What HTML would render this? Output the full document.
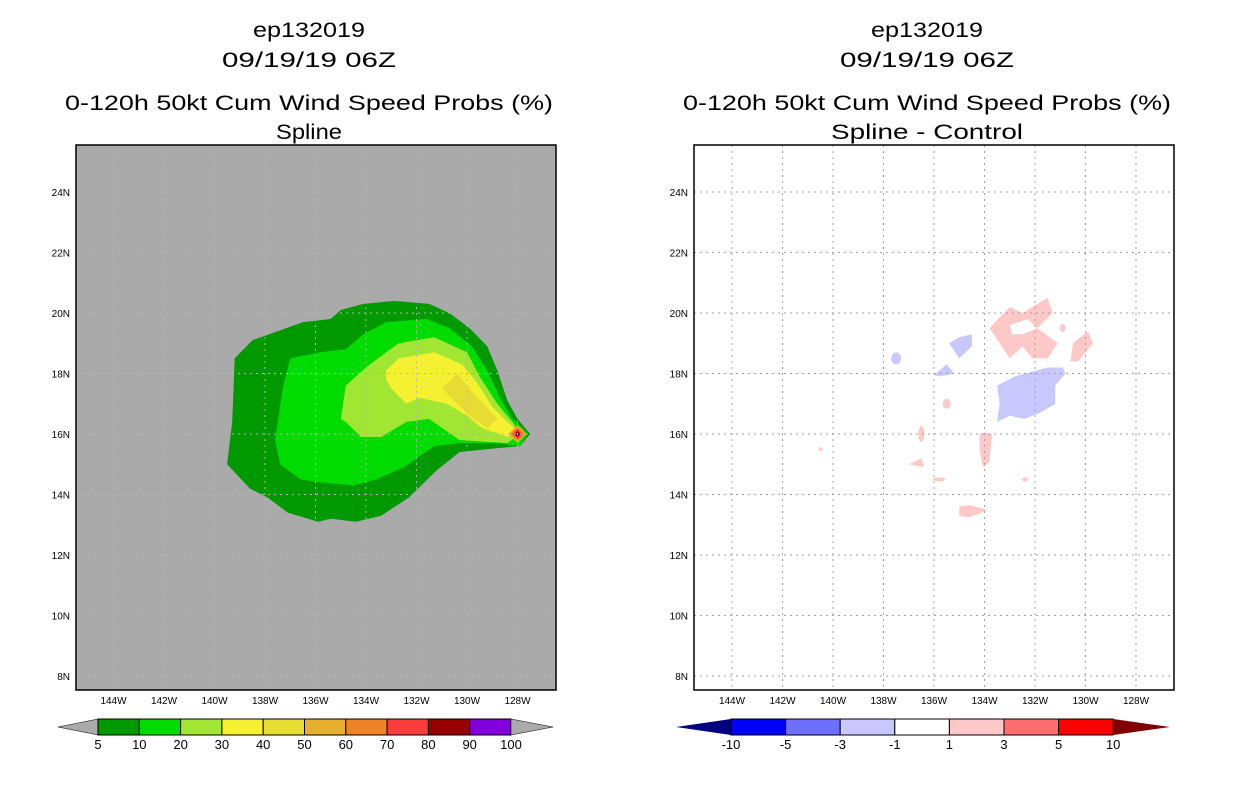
<!DOCTYPE html>
<html><head><meta charset="utf-8"><style>
html,body{margin:0;padding:0;background:#fff;}
svg{display:block;font-family:"Liberation Sans",sans-serif;}
</style></head><body>
<svg id="c" width="1236" height="800" viewBox="0 0 1236 800" xmlns="http://www.w3.org/2000/svg">
<g font-size="21" text-anchor="middle" fill="#000">
<text x="309" y="37" textLength="112" lengthAdjust="spacingAndGlyphs">ep132019</text>
<text x="309" y="67" textLength="174" lengthAdjust="spacingAndGlyphs">09/19/19 06Z</text>
<text x="309" y="110" textLength="488" lengthAdjust="spacingAndGlyphs">0-120h 50kt Cum Wind Speed Probs (%)</text>
<text x="309" y="139" textLength="66" lengthAdjust="spacingAndGlyphs">Spline</text>
</g>
<g font-size="21" text-anchor="middle" fill="#000">
<text x="927" y="37" textLength="112" lengthAdjust="spacingAndGlyphs">ep132019</text>
<text x="927" y="67" textLength="174" lengthAdjust="spacingAndGlyphs">09/19/19 06Z</text>
<text x="927" y="110" textLength="488" lengthAdjust="spacingAndGlyphs">0-120h 50kt Cum Wind Speed Probs (%)</text>
<text x="927" y="139" textLength="192" lengthAdjust="spacingAndGlyphs">Spline - Control</text>
</g>
<rect x="76" y="145" width="480" height="545" fill="#aaaaaa"/>
<rect x="694" y="145" width="480" height="545" fill="#ffffff"/>
<g id="lshapes"></g>
<g id="rshapes"></g>
<g id="grid"></g>
<rect x="76" y="145" width="480" height="545" fill="none" stroke="#000" stroke-width="1.5"/>
<rect x="694" y="145" width="480" height="545" fill="none" stroke="#000" stroke-width="1.5"/>
<g id="ticks" font-size="10" fill="#000"></g>
<g id="cbars"></g>
</svg>
<script>
const lonTicks=[144,142,140,138,136,134,132,130,128];
const latTicks=[24,22,20,18,16,14,12,10,8];
const probLevels=["5","10","20","30","40","50","60","70","80","90","100"];
const probColors=["#009a00","#00dc00","#a0e632","#f5f032","#e6dc32","#e6af2d","#f08228","#fa3c3c","#960000","#8200dc"];
const diffLevels=["-10","-5","-3","-1","1","3","5","10"];
const diffColors=["#0000ff","#6e6eff","#c8c8ff","#ffffff","#ffc8c8","#ff6e6e","#ff0000"];
const prob5=[[138.5,19.1],[136.5,19.7],[135.4,19.8],[135.0,20.1],[134.1,20.3],[132.9,20.4],[131.5,20.3],[130.7,20.0],[129.9,19.5],[129.2,18.9],[128.8,18.1],[128.4,17.1],[128.0,16.5],[127.5,16.0],[127.9,15.6],[129.2,15.5],[130.3,15.4],[131.2,14.8],[132.3,13.9],[133.4,13.3],[134.4,13.1],[135.4,13.2],[135.9,13.1],[137.1,13.4],[137.9,13.9],[138.6,14.2],[139.5,15.0],[139.3,16.4],[139.2,18.5]];
const prob10=[[137.0,18.5],[135.8,18.7],[134.8,18.8],[134.1,19.3],[133.2,19.7],[131.6,19.8],[130.7,19.5],[129.8,18.9],[129.2,18.1],[128.7,17.2],[128.2,16.5],[127.8,16.2],[127.6,16.0],[127.9,15.6],[128.8,15.7],[130.3,15.7],[131.3,15.6],[132.5,14.9],[133.6,14.5],[134.5,14.3],[135.8,14.4],[136.6,14.5],[137.4,15.0],[137.6,15.8],[137.3,17.5]];
const prob20=[[134.0,18.2],[133.2,18.7],[132.7,19.0],[131.3,19.2],[130.0,18.7],[129.5,17.9],[128.8,17.0],[128.2,16.4],[127.9,16.0],[128.4,15.7],[130.3,15.8],[131.5,16.5],[132.4,16.4],[133.4,15.9],[134.2,15.9],[134.8,16.4],[135.0,16.5],[134.8,17.6]];
const prob30=[[133.2,18.1],[132.7,18.5],[131.3,18.7],[130.2,18.3],[129.6,17.7],[129.0,16.9],[128.4,16.4],[128.0,16.1],[128.4,15.9],[129.4,16.2],[130.0,16.6],[130.8,17.0],[131.9,17.2],[132.4,17.0],[133.0,17.5],[133.2,17.8]];
const prob40=[[131.0,17.5],[130.4,18.0],[129.8,17.4],[128.8,16.5],[129.2,16.2],[129.9,16.6]];
const peakCenter=[128.0,16.0];
const posBig=[[133.8,19.5],[133.0,20.2],[132.5,20.0],[131.5,20.5],[131.3,20.0],[131.9,19.5],[131.1,19.0],[131.5,18.5],[132.1,18.5],[132.5,18.9],[133.0,18.5]];
const posHole=[[133.0,19.6],[132.3,19.8],[131.9,19.5],[132.5,19.3],[132.9,19.3]];
const posEast=[[130.6,18.4],[130.5,19.0],[129.9,19.4],[129.7,19.0],[130.3,18.4]];
const posStrip=[[134.2,16.0],[134.0,16.05],[133.7,16.0],[133.8,15.1],[134.0,14.9],[134.1,15.0],[134.2,15.5]];
const posTri=[[137.0,15.0],[136.5,15.2],[136.4,14.9]];
const posSouth=[[135.0,13.6],[134.6,13.65],[133.9,13.5],[134.1,13.4],[134.6,13.25],[135.0,13.3]];
const negBig=[[133.5,17.6],[132.8,17.9],[131.5,18.2],[130.9,18.2],[130.8,18.0],[131.2,17.6],[131.2,17.0],[131.8,16.7],[132.4,16.5],[133.0,16.6],[133.5,16.4],[133.4,17.0]];
const negN=[[135.4,19.0],[135.0,19.2],[134.5,19.3],[134.5,18.9],[135.0,18.5]];
const negMid=[[136.0,17.95],[135.5,18.3],[135.2,18.0],[135.8,17.9]];
const negDots=[[137.5,18.5]];
const posDots=[[130.9,19.5],[135.5,17.0],[136.5,16.0],[140.5,15.5],[135.8,14.5],[132.4,14.5]];

const NS="http://www.w3.org/2000/svg";
function xL(lon){return 265+(138-lon)*25.25;}
function xR(lon){return xL(lon)+618.5;}
function yP(lat){return 434-(lat-16)*30.25;}
function mk(tag,attrs,parent){const e=document.createElementNS(NS,tag);for(const k in attrs)e.setAttribute(k,attrs[k]);parent.appendChild(e);return e;}
function pts(arr,fx){return arr.map(p=>fx(p[0]).toFixed(1)+","+yP(p[1]).toFixed(1)).join(" ");}

const L=document.getElementById('lshapes');
[[prob5,0,'contour-5'],[prob10,1,'contour-10'],[prob20,2,'contour-20'],[prob30,3,'contour-30'],[prob40,4,'contour-40']].forEach(d=>{
  const p=mk('polygon',{points:pts(d[0],xL),fill:probColors[d[1]]},L);
  
  
});
const px=xL(peakCenter[0]),py=yP(peakCenter[1]);
[[9,probColors[5]],[7,probColors[6]],[5,probColors[7]],[3,probColors[8]],[1.5,probColors[9]]].forEach(r=>{
  const d=mk('polygon',{points:`${px-r[0]},${py} ${px},${py-r[0]} ${px+r[0]},${py} ${px},${py+r[0]}`,fill:r[1]},L);
  
  
});

const R=document.getElementById('rshapes');
const pink=diffColors[4],lav=diffColors[2];
[[posBig,pink,'pos-diff-north'],[posHole,'#ffffff','pos-diff-hole'],[posEast,pink,'pos-diff-east'],[posStrip,pink,'pos-diff-strip'],[posTri,pink,'pos-diff-triangle'],[posSouth,pink,'pos-diff-south'],[negBig,lav,'neg-diff-main'],[negN,lav,'neg-diff-north'],[negMid,lav,'neg-diff-mid']].forEach(d=>{
  const p=mk('polygon',{points:pts(d[0],xR),fill:d[1]},R);
  
  
});
negDots.forEach(d=>{const e=mk('ellipse',{cx:xR(d[0]),cy:yP(d[1]),rx:5,ry:6,fill:lav},R);
  
  });
const dotSizes=[[3,4],[4,5],[3,8],[2,2],[6,2],[3,2]];
posDots.forEach((d,i)=>{const e=mk('ellipse',{cx:xR(d[0]),cy:yP(d[1]),rx:dotSizes[i][0],ry:dotSizes[i][1],fill:pink},R);
  
  });

const G=document.getElementById('grid');
[[xL,76,556,'#b4b4b4'],[xR,694,1174,'#a0a0a0']].forEach(c=>{
  lonTicks.forEach(t=>{const x=c[0](t);const l=mk('line',{x1:x,x2:x,y1:145,y2:690,stroke:c[3],'stroke-width':1,'stroke-dasharray':'2,4'},G);
    
    });
  latTicks.forEach(t=>{const y=yP(t);const l=mk('line',{x1:c[1],x2:c[2],y1:y,y2:y,stroke:c[3],'stroke-width':1,'stroke-dasharray':'2,4'},G);
    
    });
});

const T=document.getElementById('ticks');
[[xL,70],[xR,688]].forEach(c=>{
  lonTicks.forEach(t=>{const e=mk('text',{x:c[0](t),y:704,'text-anchor':'middle'},T);e.textContent=t+'W';
    
    });
  latTicks.forEach(t=>{const e=mk('text',{x:c[1],y:yP(t)+4,'text-anchor':'end'},T);e.textContent=t+'N';
    
    });
});

const C=document.getElementById('cbars');
const lb0=98,lw=41.3,cy0=719,ch=16;
let tri=mk('polygon',{points:`58,727 ${lb0},${cy0} ${lb0},${cy0+ch}`,fill:'#aaaaaa',stroke:'#000','stroke-width':0.5},C);


probColors.forEach((col,i)=>{const r=mk('rect',{x:lb0+i*lw,y:cy0,width:lw,height:ch,fill:col,stroke:'#000','stroke-width':1},C);
  
  });
tri=mk('polygon',{points:`553,727 ${lb0+10*lw},${cy0} ${lb0+10*lw},${cy0+ch}`,fill:'#aaaaaa',stroke:'#000','stroke-width':0.5},C);


probLevels.forEach((s,i)=>{const e=mk('text',{x:lb0+i*lw,y:749,'text-anchor':'middle','font-size':13},C);e.textContent=s;
  
  });
const rb0=731,rw=54.6;
tri=mk('polygon',{points:`676,727 ${rb0},${cy0} ${rb0},${cy0+ch}`,fill:'#000080'},C);


diffColors.forEach((col,i)=>{const r=mk('rect',{x:rb0+i*rw,y:cy0,width:rw,height:ch,fill:col,stroke:'#000','stroke-width':1},C);
  
  });
tri=mk('polygon',{points:`1170,727 ${rb0+7*rw},${cy0} ${rb0+7*rw},${cy0+ch}`,fill:'#800000'},C);


diffLevels.forEach((s,i)=>{const e=mk('text',{x:rb0+i*rw,y:749,'text-anchor':'middle','font-size':13},C);e.textContent=s;
  
  });
</script>
</body></html>
